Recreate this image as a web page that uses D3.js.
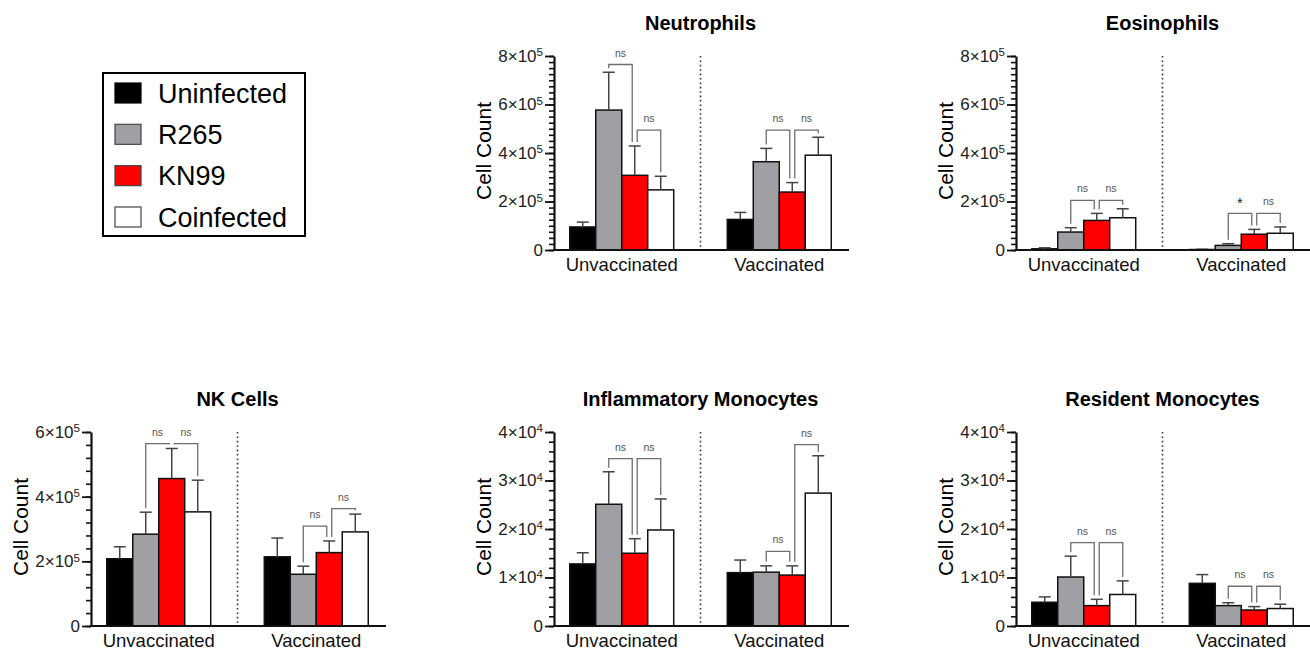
<!DOCTYPE html>
<html>
<head>
<meta charset="utf-8">
<script src="https://cdn.jsdelivr.net/npm/d3@7"></script>
<style>
  body { margin: 0; background: #fff; }
  text { font-family: "Liberation Sans", Arial, sans-serif; }
</style>
</head>
<body>
<script>
// groups and series
var groups = ["Unvaccinated", "Vaccinated"];
var series = ["Uninfected", "R265", "KN99", "Coinfected"];
var seriesColors = ["#000000", "#a0a0a4", "#ff0000", "#ffffff"];

var panelTitles = ["Neutrophils", "Eosinophils", "NK Cells", "Inflammatory Monocytes", "Resident Monocytes"];
var yMax = [8e5, 8e5, 6e5, 4e4, 4e4];
var yMajor = [2e5, 2e5, 2e5, 1e4, 1e4];
var yMinor = [0.25e5, 0.25e5, 0.4e5, 2e3, 2e3];

// means [unvaccinated, vaccinated] x series
var neutrophilsMean = [[0.95e5, 5.77e5, 3.08e5, 2.48e5], [1.26e5, 3.64e5, 2.39e5, 3.91e5]];
var neutrophilsErr  = [[0.20e5, 1.56e5, 1.21e5, 0.56e5], [0.29e5, 0.55e5, 0.39e5, 0.74e5]];
var eosinophilsMean = [[0.05e5, 0.74e5, 1.22e5, 1.33e5], [0.02e5, 0.19e5, 0.65e5, 0.69e5]];
var eosinophilsErr  = [[0.04e5, 0.18e5, 0.29e5, 0.37e5], [0.01e5, 0.07e5, 0.20e5, 0.26e5]];
var nkMean = [[2.08e5, 2.84e5, 4.56e5, 3.53e5], [2.14e5, 1.60e5, 2.27e5, 2.91e5]];
var nkErr  = [[0.37e5, 0.68e5, 0.93e5, 0.98e5], [0.58e5, 0.25e5, 0.36e5, 0.55e5]];
var inflamMean = [[1.28e4, 2.51e4, 1.50e4, 1.98e4], [1.10e4, 1.11e4, 1.05e4, 2.74e4]];
var inflamErr  = [[0.23e4, 0.67e4, 0.30e4, 0.64e4], [0.26e4, 0.13e4, 0.19e4, 0.77e4]];
var residentMean = [[0.49e4, 1.01e4, 0.42e4, 0.65e4], [0.88e4, 0.42e4, 0.33e4, 0.36e4]];
var residentErr  = [[0.11e4, 0.43e4, 0.13e4, 0.28e4], [0.18e4, 0.06e4, 0.07e4, 0.09e4]];

// significance brackets: [group, from series, to series, height, label]
var neutrophilsSig = [[0, 1, 2, 7.65e5, "ns"], [0, 2, 3, 4.94e5, "ns"], [1, 1, 2, 4.94e5, "ns"], [1, 2, 3, 4.94e5, "ns"]];
var eosinophilsSig = [[0, 1, 2, 2.05e5, "ns"], [0, 2, 3, 2.05e5, "ns"], [1, 1, 2, 1.51e5, "*"], [1, 2, 3, 1.51e5, "ns"]];
var nkSig = [[0, 1, 2, 5.64e5, "ns"], [0, 2, 3, 5.64e5, "ns"], [1, 1, 2, 3.09e5, "ns"], [1, 2, 3, 3.63e5, "ns"]];
var inflamSig = [[0, 1, 2, 3.45e4, "ns"], [0, 2, 3, 3.45e4, "ns"], [1, 1, 2, 1.54e4, "ns"], [1, 2, 3, 3.74e4, "ns"]];
var residentSig = [[0, 1, 2, 1.72e4, "ns"], [0, 2, 3, 1.72e4, "ns"], [1, 1, 2, 0.82e4, "ns"], [1, 2, 3, 0.82e4, "ns"]];

var means = [neutrophilsMean, eosinophilsMean, nkMean, inflamMean, residentMean];
var errs = [neutrophilsErr, eosinophilsErr, nkErr, inflamErr, residentErr];
var sigs = [neutrophilsSig, eosinophilsSig, nkSig, inflamSig, residentSig];

// layout
var w = 1310, h = 652;
var W = 293, H = 194;
var colX = [91, 554, 1016];
var rowY = [56, 432];
var panelCells = [[1, 0], [2, 0], [0, 1], [1, 1], [2, 1]];

var svg = d3.select("body").append("svg")
    .attr("width", w)
    .attr("height", h);

// Legend
var legend = svg.append("g").attr("transform", "translate(103,73)");
legend.append("rect")
    .attr("width", 202).attr("height", 163)
    .attr("fill", "white").attr("stroke", "black").attr("stroke-width", 2);
var legY = d3.scalePoint().domain(series).range([20, 144]);
series.forEach(function(s, i) {
  legend.append("rect")
      .attr("x", 12).attr("y", legY(s) - 10)
      .attr("width", 26).attr("height", 20)
      .attr("fill", seriesColors[i])
      .attr("stroke", i == 0 ? "#000" : "#444").attr("stroke-width", 1.2);
  legend.append("text")
      .attr("x", 55).attr("y", legY(s) + 9.5)
      .attr("font-size", 27)
      .text(s);
});

function supLabel(d) {
  var t = d3.select(this);
  t.text(null);
  if (d === 0) { t.text("0"); return; }
  var e = Math.floor(Math.log10(d) + 1e-9);
  var m = Math.round(d / Math.pow(10, e));
  t.append("tspan").text(m + "×10");
  t.append("tspan").attr("dy", "-0.5em").attr("font-size", "0.68em").text(e);
}

panelTitles.forEach(function(title, p) {
  var ox = colX[panelCells[p][0]], oy = rowY[panelCells[p][1]];
  var g = svg.append("g").attr("transform", "translate(" + ox + "," + oy + ")");

  var x0 = d3.scaleBand().domain(groups).range([0, W]).paddingInner(0.34).paddingOuter(0.1);
  var x1 = d3.scaleBand().domain(series).range([0, x0.bandwidth()]);
  var y = d3.scaleLinear().domain([0, yMax[p]]).range([H, 0]);

  // title
  g.append("text")
      .attr("x", W / 2).attr("y", -26)
      .attr("text-anchor", "middle")
      .attr("font-size", 20).attr("font-weight", "bold")
      .text(title);

  // y label
  g.append("text")
      .attr("transform", "translate(-63," + (H / 2 - 2) + ") rotate(-90)")
      .attr("text-anchor", "middle")
      .attr("font-size", 21)
      .text("Cell Count");

  // divider
  var divX = (x0(groups[0]) + x0.bandwidth() + x0(groups[1])) / 2;
  g.append("line")
      .attr("x1", divX).attr("x2", divX)
      .attr("y1", 0).attr("y2", H)
      .attr("stroke", "#333").attr("stroke-width", 1.6)
      .attr("stroke-dasharray", "1.6,2.8");

  // bars
  groups.forEach(function(gr, gi) {
    var gg = g.append("g").attr("transform", "translate(" + x0(gr) + ",0)");
    gg.selectAll("rect").data(means[p][gi]).enter().append("rect")
        .attr("x", function(d, i) { return x1(series[i]); })
        .attr("y", function(d) { return y(d); })
        .attr("width", x1.bandwidth())
        .attr("height", function(d) { return H - y(d); })
        .attr("fill", function(d, i) { return seriesColors[i]; })
        .attr("stroke", "#111").attr("stroke-width", 1.5);

    // error bars (upper only)
    means[p][gi].forEach(function(m, i) {
      var cx = x1(series[i]) + x1.bandwidth() / 2;
      var top = y(m + errs[p][gi][i]);
      gg.append("line")
          .attr("x1", cx).attr("x2", cx)
          .attr("y1", y(m)).attr("y2", top)
          .attr("stroke", "#444").attr("stroke-width", 1.5);
      gg.append("line")
          .attr("x1", cx - 6).attr("x2", cx + 6)
          .attr("y1", top).attr("y2", top)
          .attr("stroke", "#444").attr("stroke-width", 1.5);
    });
  });

  // significance brackets
  sigs[p].forEach(function(s) {
    var gr = groups[s[0]];
    var shareLeft = sigs[p].some(function(o) { return o !== s && o[0] === s[0] && o[2] === s[1]; });
    var shareRight = sigs[p].some(function(o) { return o !== s && o[0] === s[0] && o[1] === s[2]; });
    var xa = x0(gr) + x1(series[s[1]]) + x1.bandwidth() / 2 + (shareLeft ? 2.5 : 0);
    var xb = x0(gr) + x1(series[s[2]]) + x1.bandwidth() / 2 - (shareRight ? 2.5 : 0);
    var yl = y(s[3]);
    var ya = y(means[p][s[0]][s[1]] + errs[p][s[0]][s[1]]) - 4;
    var yb = y(means[p][s[0]][s[2]] + errs[p][s[0]][s[2]]) - 4;
    g.append("path")
        .attr("d", "M" + xa + "," + ya + "V" + yl + "H" + xb + "V" + yb)
        .attr("fill", "none")
        .attr("stroke", "#6e6e6e").attr("stroke-width", 1.3);
    g.append("text")
        .attr("x", (xa + xb) / 2).attr("y", yl - (s[4] == "*" ? 5 : 8))
        .attr("text-anchor", "middle")
        .attr("font-size", s[4] == "*" ? 15 : 10.5)
        .attr("fill", s[4] == "*" ? "#222" : "#555")
        .text(s[4]);
  });

  // y axis: minor then major
  g.append("g")
      .call(d3.axisLeft(y).tickValues(d3.range(0, yMax[p] + 1, yMinor[p])).tickSize(5).tickSizeOuter(0).tickFormat(""))
      .call(function(a) {
        a.selectAll("line").attr("stroke", "#111").attr("stroke-width", 1.6);
        a.select(".domain").attr("stroke", "#111").attr("stroke-width", 2.2);
      });
  g.append("g")
      .call(d3.axisLeft(y).tickValues(d3.range(0, yMax[p] + 1, yMajor[p])).tickSize(9).tickSizeOuter(0).tickPadding(2))
      .call(function(a) {
        a.select(".domain").remove();
        a.selectAll("line").attr("stroke", "#111").attr("stroke-width", 1.8);
        a.selectAll("text")
            .attr("font-size", 17)
            .attr("font-family", "Liberation Sans, Arial, sans-serif")
            .attr("fill", "#222")
            .each(supLabel);
      });

  // x axis
  var xAxisG = g.append("g")
      .attr("transform", "translate(0," + H + ")")
      .call(d3.axisBottom(x0).tickSize(0).tickSizeOuter(0).tickPadding(8));
  xAxisG.select(".domain")
      .attr("d", "M-1,0H" + (W + 2))
      .attr("stroke", "#111").attr("stroke-width", 2.2);
  xAxisG.selectAll("text")
      .attr("font-size", 18.5)
      .attr("font-family", "Liberation Sans, Arial, sans-serif")
      .attr("fill", "#111");
});
</script>
</body>
</html>
